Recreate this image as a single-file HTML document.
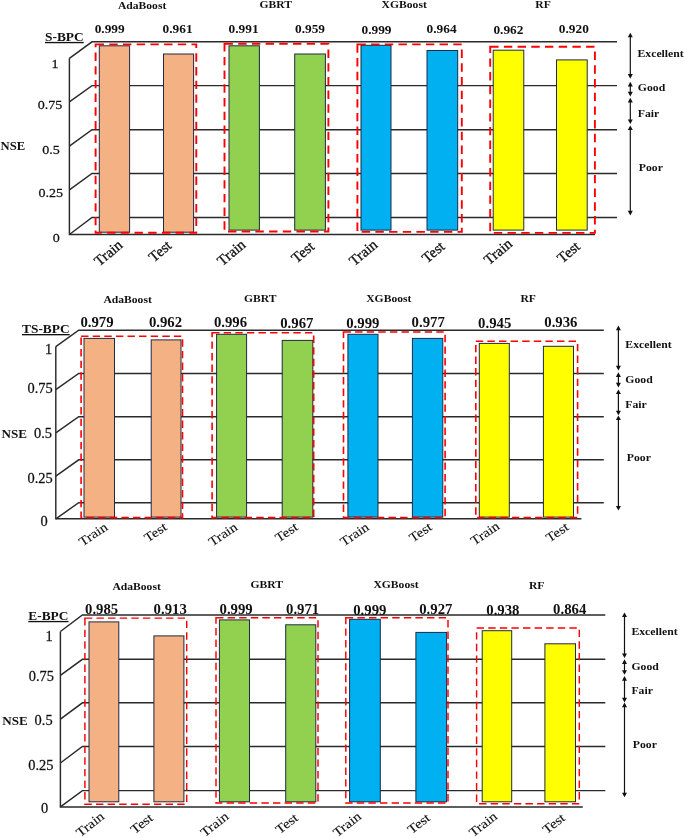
<!DOCTYPE html>
<html><head><meta charset="utf-8"><title>NSE</title>
<style>html,body{margin:0;padding:0;background:#fff}svg{display:block;filter:blur(0.4px)}text{font-family:"Liberation Serif", "DejaVu Serif", serif;fill:#111}</style>
</head><body>
<svg width="685" height="838" viewBox="0 0 685 838">
<g stroke="#2a2a2a" stroke-width="1.45" fill="none">
<path d="M69.4,58.3 L92,41.8 L617,41.8"/>
<path d="M69.4,101.9 L92,85.6 L617,85.6"/>
<path d="M69.4,146.1 L92,129.7 L617,129.7"/>
<path d="M69.4,189.8 L92,173.5 L617,173.5"/>
<path d="M69.4,234.5 L92,217.5 L617,217.5"/>
<path d="M69.4,58.3 L69.4,234.5 L595,234.5"/>
</g>
<rect x="99.3" y="45.8" width="30.3" height="186.4" fill="#F4B183" stroke="#1f2a44" stroke-width="1"/>
<rect x="163.5" y="54" width="30.1" height="178.2" fill="#F4B183" stroke="#1f2a44" stroke-width="1"/>
<rect x="229" y="45.8" width="30.4" height="184.3" fill="#92D050" stroke="#1f2a44" stroke-width="1"/>
<rect x="294.7" y="54" width="30.7" height="176.1" fill="#92D050" stroke="#1f2a44" stroke-width="1"/>
<rect x="361" y="45.3" width="30" height="184.8" fill="#00B0F0" stroke="#1f2a44" stroke-width="1"/>
<rect x="427" y="50.5" width="30.7" height="179.6" fill="#00B0F0" stroke="#1f2a44" stroke-width="1"/>
<rect x="493.2" y="50.2" width="30.6" height="179.9" fill="#FFFF00" stroke="#1f2a44" stroke-width="1"/>
<rect x="556.5" y="59.9" width="30.7" height="170.2" fill="#FFFF00" stroke="#1f2a44" stroke-width="1"/>
<rect x="95.6" y="44.4" width="100.7" height="188.4" fill="none" stroke="#ff0000" stroke-width="1.9" stroke-dasharray="8.4,5.3"/>
<rect x="224.5" y="43.8" width="103.9" height="187.7" fill="none" stroke="#ff0000" stroke-width="1.9" stroke-dasharray="8.4,5.3"/>
<rect x="357.4" y="44.4" width="104.4" height="187.5" fill="none" stroke="#ff0000" stroke-width="1.9" stroke-dasharray="8.4,5.3"/>
<rect x="490.2" y="46.7" width="104.7" height="186.2" fill="none" stroke="#ff0000" stroke-width="1.9" stroke-dasharray="8.4,5.3"/>
<text transform="translate(45 40.9)" font-size="13.4" font-weight="bold" text-decoration="underline">S-BPC</text>
<text transform="translate(58.4 67.9) scale(1.05 1)" font-size="13.4" text-anchor="end" stroke="#111" stroke-width="0.25">1</text>
<text transform="translate(62.3 108.5) scale(1.05 1)" font-size="13.4" text-anchor="end" stroke="#111" stroke-width="0.25">0.75</text>
<text transform="translate(59.7 154.3) scale(1.05 1)" font-size="13.4" text-anchor="end" stroke="#111" stroke-width="0.25">0.5</text>
<text transform="translate(63 196.8) scale(1.05 1)" font-size="13.4" text-anchor="end" stroke="#111" stroke-width="0.25">0.25</text>
<text transform="translate(59.7 242) scale(1.05 1)" font-size="13.4" text-anchor="end" stroke="#111" stroke-width="0.25">0</text>
<text transform="translate(0.5 150) scale(1.1 1)" font-size="11.5" font-weight="bold">NSE</text>
<text transform="translate(142.1 9.4) scale(1.02 1)" font-size="11.4" font-weight="bold" text-anchor="middle">AdaBoost</text>
<text transform="translate(275.8 8.2) scale(1.02 1)" font-size="11.4" font-weight="bold" text-anchor="middle">GBRT</text>
<text transform="translate(404.2 8.2) scale(1.02 1)" font-size="11.4" font-weight="bold" text-anchor="middle">XGBoost</text>
<text transform="translate(543 8.2) scale(1.02 1)" font-size="11.4" font-weight="bold" text-anchor="middle">RF</text>
<text transform="translate(109.7 33.3) scale(1.06 1)" font-size="12.6" font-weight="bold" text-anchor="middle">0.999</text>
<text transform="translate(177.6 33.3) scale(1.06 1)" font-size="12.6" font-weight="bold" text-anchor="middle">0.961</text>
<text transform="translate(243.6 33.3) scale(1.06 1)" font-size="12.6" font-weight="bold" text-anchor="middle">0.991</text>
<text transform="translate(310 33.3) scale(1.06 1)" font-size="12.6" font-weight="bold" text-anchor="middle">0.959</text>
<text transform="translate(376.5 34.1) scale(1.06 1)" font-size="12.6" font-weight="bold" text-anchor="middle">0.999</text>
<text transform="translate(441.6 33) scale(1.06 1)" font-size="12.6" font-weight="bold" text-anchor="middle">0.964</text>
<text transform="translate(508.4 33.6) scale(1.06 1)" font-size="12.6" font-weight="bold" text-anchor="middle">0.962</text>
<text transform="translate(573.8 33) scale(1.06 1)" font-size="12.6" font-weight="bold" text-anchor="middle">0.920</text>
<text transform="translate(637.5 56.8) scale(1.03 1)" font-size="11.4" font-weight="bold">Excellent</text>
<text transform="translate(637.8 90.7) scale(1.03 1)" font-size="11.4" font-weight="bold">Good</text>
<text transform="translate(637.8 116.7) scale(1.03 1)" font-size="11.4" font-weight="bold">Fair</text>
<text transform="translate(638.8 171) scale(1.03 1)" font-size="11.4" font-weight="bold">Poor</text>
<path d="M630.3,34.7 L630.3,76.7" stroke="#111" stroke-width="1.2" fill="none"/>
<path d="M630.3,32.7 l-2.5,4.6 l5,0 Z M630.3,78.7 l-2.5,-4.6 l5,0 Z" fill="#111"/>
<path d="M630.3,83.8 L630.3,94.4" stroke="#111" stroke-width="1.2" fill="none"/>
<path d="M630.3,81.8 l-2.5,4.6 l5,0 Z M630.3,96.4 l-2.5,-4.6 l5,0 Z" fill="#111"/>
<path d="M630.3,99.8 L630.3,122" stroke="#111" stroke-width="1.2" fill="none"/>
<path d="M630.3,97.8 l-2.5,4.6 l5,0 Z M630.3,124 l-2.5,-4.6 l5,0 Z" fill="#111"/>
<path d="M630.3,127.5 L630.3,213.4" stroke="#111" stroke-width="1.2" fill="none"/>
<path d="M630.3,125.5 l-2.5,4.6 l5,0 Z M630.3,215.4 l-2.5,-4.6 l5,0 Z" fill="#111"/>
<text transform="translate(123.5 246.5) rotate(-40)" font-size="14.8" text-anchor="end" stroke="#111" stroke-width="0.3">Train</text>
<text transform="translate(172.5 247) rotate(-40)" font-size="14.8" text-anchor="end" stroke="#111" stroke-width="0.3">Test</text>
<text transform="translate(246.5 246.2) rotate(-40)" font-size="14.8" text-anchor="end" stroke="#111" stroke-width="0.3">Train</text>
<text transform="translate(315.3 248) rotate(-40)" font-size="14.8" text-anchor="end" stroke="#111" stroke-width="0.3">Test</text>
<text transform="translate(378.5 246.2) rotate(-40)" font-size="14.8" text-anchor="end" stroke="#111" stroke-width="0.3">Train</text>
<text transform="translate(445.7 248) rotate(-40)" font-size="14.8" text-anchor="end" stroke="#111" stroke-width="0.3">Test</text>
<text transform="translate(513.2 245.3) rotate(-40)" font-size="14.8" text-anchor="end" stroke="#111" stroke-width="0.3">Train</text>
<text transform="translate(581 248) rotate(-40)" font-size="14.8" text-anchor="end" stroke="#111" stroke-width="0.3">Test</text>
<g stroke="#2a2a2a" stroke-width="1.45" fill="none">
<path d="M55.8,346.6 L78.7,330.2 L603.8,330.2"/>
<path d="M55.8,389.7 L78.7,373.5 L603.8,373.5"/>
<path d="M55.8,432.9 L78.7,416.7 L603.8,416.7"/>
<path d="M55.8,476.1 L78.7,459.8 L603.8,459.8"/>
<path d="M55.8,518.8 L78.7,502.7 L603.8,502.7"/>
<path d="M55.8,346.6 L55.8,518.8 L581.4,518.8"/>
</g>
<rect x="84" y="338.4" width="30.5" height="178.7" fill="#F4B183" stroke="#1f2a44" stroke-width="1"/>
<rect x="151.2" y="339.9" width="29.8" height="177.2" fill="#F4B183" stroke="#1f2a44" stroke-width="1"/>
<rect x="216.6" y="334.3" width="30" height="182.8" fill="#92D050" stroke="#1f2a44" stroke-width="1"/>
<rect x="282.2" y="340.4" width="30.6" height="176.7" fill="#92D050" stroke="#1f2a44" stroke-width="1"/>
<rect x="347.9" y="334.3" width="30.1" height="182.8" fill="#00B0F0" stroke="#1f2a44" stroke-width="1"/>
<rect x="412.4" y="338.4" width="30.4" height="178.7" fill="#00B0F0" stroke="#1f2a44" stroke-width="1"/>
<rect x="479.3" y="343.4" width="30" height="173.7" fill="#FFFF00" stroke="#1f2a44" stroke-width="1"/>
<rect x="543.4" y="346.3" width="30.1" height="170.8" fill="#FFFF00" stroke="#1f2a44" stroke-width="1"/>
<rect x="81.1" y="336.3" width="101.4" height="181.3" fill="none" stroke="#ff0000" stroke-width="1.6" stroke-dasharray="7.4,4.2"/>
<rect x="212.1" y="332.8" width="101.6" height="184.8" fill="none" stroke="#ff0000" stroke-width="1.6" stroke-dasharray="7.4,4.2"/>
<rect x="343.5" y="332" width="101.6" height="185.6" fill="none" stroke="#ff0000" stroke-width="1.6" stroke-dasharray="7.4,4.2"/>
<rect x="475.8" y="341.3" width="101.8" height="176.3" fill="none" stroke="#ff0000" stroke-width="1.6" stroke-dasharray="7.4,4.2"/>
<text transform="translate(22 333)" font-size="13.4" font-weight="bold" text-decoration="underline">TS-BPC</text>
<text transform="translate(52.3 353.8) scale(1.03 1)" font-size="14" text-anchor="end" stroke="#111" stroke-width="0.25">1</text>
<text transform="translate(52.7 393.2) scale(1.03 1)" font-size="14" text-anchor="end" stroke="#111" stroke-width="0.25">0.75</text>
<text transform="translate(52 438) scale(1.03 1)" font-size="14" text-anchor="end" stroke="#111" stroke-width="0.25">0.5</text>
<text transform="translate(52.7 483.4) scale(1.03 1)" font-size="14" text-anchor="end" stroke="#111" stroke-width="0.25">0.25</text>
<text transform="translate(47.8 525.9) scale(1.03 1)" font-size="14" text-anchor="end" stroke="#111" stroke-width="0.25">0</text>
<text transform="translate(1.5 438) scale(1.14 1)" font-size="11.5" font-weight="bold">NSE</text>
<text transform="translate(127.6 303.4) scale(1.02 1)" font-size="11.4" font-weight="bold" text-anchor="middle">AdaBoost</text>
<text transform="translate(260.3 301.9) scale(1.02 1)" font-size="11.4" font-weight="bold" text-anchor="middle">GBRT</text>
<text transform="translate(388.8 301.9) scale(1.02 1)" font-size="11.4" font-weight="bold" text-anchor="middle">XGBoost</text>
<text transform="translate(528.2 301.9) scale(1.02 1)" font-size="11.4" font-weight="bold" text-anchor="middle">RF</text>
<text transform="translate(97 326.7) scale(1.04 1)" font-size="14.2" font-weight="bold" text-anchor="middle">0.979</text>
<text transform="translate(165.5 326.7) scale(1.04 1)" font-size="14.2" font-weight="bold" text-anchor="middle">0.962</text>
<text transform="translate(230.5 326.7) scale(1.04 1)" font-size="14.2" font-weight="bold" text-anchor="middle">0.996</text>
<text transform="translate(296.8 327.6) scale(1.04 1)" font-size="14.2" font-weight="bold" text-anchor="middle">0.967</text>
<text transform="translate(362.8 327.6) scale(1.04 1)" font-size="14.2" font-weight="bold" text-anchor="middle">0.999</text>
<text transform="translate(428.2 326.7) scale(1.04 1)" font-size="14.2" font-weight="bold" text-anchor="middle">0.977</text>
<text transform="translate(494.7 327.6) scale(1.04 1)" font-size="14.2" font-weight="bold" text-anchor="middle">0.945</text>
<text transform="translate(560.9 326.7) scale(1.04 1)" font-size="14.2" font-weight="bold" text-anchor="middle">0.936</text>
<text transform="translate(625.3 348) scale(1.03 1)" font-size="11.4" font-weight="bold">Excellent</text>
<text transform="translate(625.3 383) scale(1.03 1)" font-size="11.4" font-weight="bold">Good</text>
<text transform="translate(625.3 408) scale(1.03 1)" font-size="11.4" font-weight="bold">Fair</text>
<text transform="translate(626.8 461.2) scale(1.03 1)" font-size="11.4" font-weight="bold">Poor</text>
<path d="M618.4,327.6 L618.4,368.4" stroke="#111" stroke-width="1.2" fill="none"/>
<path d="M618.4,325.6 l-2.5,4.6 l5,0 Z M618.4,370.4 l-2.5,-4.6 l5,0 Z" fill="#111"/>
<path d="M618.4,374.3 L618.4,385.4" stroke="#111" stroke-width="1.2" fill="none"/>
<path d="M618.4,372.3 l-2.5,4.6 l5,0 Z M618.4,387.4 l-2.5,-4.6 l5,0 Z" fill="#111"/>
<path d="M618.4,391.5 L618.4,413.3" stroke="#111" stroke-width="1.2" fill="none"/>
<path d="M618.4,389.5 l-2.5,4.6 l5,0 Z M618.4,415.3 l-2.5,-4.6 l5,0 Z" fill="#111"/>
<path d="M618.4,417.4 L618.4,508.5" stroke="#111" stroke-width="1.2" fill="none"/>
<path d="M618.4,415.4 l-2.5,4.6 l5,0 Z M618.4,510.5 l-2.5,-4.6 l5,0 Z" fill="#111"/>
<text transform="translate(108.6 529) rotate(-34) scale(1.14 1)" font-size="13" text-anchor="end" stroke="#111" stroke-width="0.12">Train</text>
<text transform="translate(168 529) rotate(-34) scale(1.14 1)" font-size="13" text-anchor="end" stroke="#111" stroke-width="0.12">Test</text>
<text transform="translate(238.4 529) rotate(-34) scale(1.14 1)" font-size="13" text-anchor="end" stroke="#111" stroke-width="0.12">Train</text>
<text transform="translate(299 529) rotate(-34) scale(1.14 1)" font-size="13" text-anchor="end" stroke="#111" stroke-width="0.12">Test</text>
<text transform="translate(370 529) rotate(-34) scale(1.14 1)" font-size="13" text-anchor="end" stroke="#111" stroke-width="0.12">Train</text>
<text transform="translate(433 529) rotate(-34) scale(1.14 1)" font-size="13" text-anchor="end" stroke="#111" stroke-width="0.12">Test</text>
<text transform="translate(500.5 528) rotate(-34) scale(1.14 1)" font-size="13" text-anchor="end" stroke="#111" stroke-width="0.12">Train</text>
<text transform="translate(569.7 529) rotate(-34) scale(1.14 1)" font-size="13" text-anchor="end" stroke="#111" stroke-width="0.12">Test</text>
<g stroke="#2a2a2a" stroke-width="1.45" fill="none">
<path d="M60.4,631.5 L82.4,614.9 L605.3,614.9"/>
<path d="M60.4,675.4 L82.4,659.3 L605.3,659.3"/>
<path d="M60.4,719.2 L82.4,702.8 L605.3,702.8"/>
<path d="M60.4,763 L82.4,746.4 L605.3,746.4"/>
<path d="M60.4,806.9 L82.4,790.6 L605.3,790.6"/>
<path d="M60.4,631.5 L60.4,806.9 L582.8,806.9"/>
</g>
<rect x="89" y="621.9" width="29.8" height="179.9" fill="#F4B183" stroke="#1f2a44" stroke-width="1"/>
<rect x="153.9" y="635.9" width="30" height="165.9" fill="#F4B183" stroke="#1f2a44" stroke-width="1"/>
<rect x="219.4" y="619.9" width="30.1" height="181.9" fill="#92D050" stroke="#1f2a44" stroke-width="1"/>
<rect x="285.7" y="624.8" width="30.1" height="177" fill="#92D050" stroke="#1f2a44" stroke-width="1"/>
<rect x="349.6" y="619.3" width="30.7" height="182.5" fill="#00B0F0" stroke="#1f2a44" stroke-width="1"/>
<rect x="415.9" y="632.4" width="30.7" height="169.4" fill="#00B0F0" stroke="#1f2a44" stroke-width="1"/>
<rect x="482.2" y="630.7" width="29.5" height="171.1" fill="#FFFF00" stroke="#1f2a44" stroke-width="1"/>
<rect x="544.9" y="643.8" width="30.6" height="158" fill="#FFFF00" stroke="#1f2a44" stroke-width="1"/>
<rect x="84.9" y="618.1" width="101.8" height="186.1" fill="none" stroke="#ff0000" stroke-width="1.45" stroke-dasharray="7.4,4.2"/>
<rect x="216" y="617.8" width="102" height="185.2" fill="none" stroke="#ff0000" stroke-width="1.45" stroke-dasharray="7.4,4.2"/>
<rect x="345.8" y="617.8" width="102.2" height="185.2" fill="none" stroke="#ff0000" stroke-width="1.45" stroke-dasharray="7.4,4.2"/>
<rect x="476.6" y="628" width="102.7" height="175.7" fill="none" stroke="#ff0000" stroke-width="1.45" stroke-dasharray="7.4,4.2"/>
<text transform="translate(28.3 619.9)" font-size="13.4" font-weight="bold" text-decoration="underline">E-BPC</text>
<text transform="translate(52.6 640.9) scale(1.03 1)" font-size="14" text-anchor="end" stroke="#111" stroke-width="0.25">1</text>
<text transform="translate(54 680.6) scale(1.03 1)" font-size="14" text-anchor="end" stroke="#111" stroke-width="0.25">0.75</text>
<text transform="translate(52.6 725.2) scale(1.03 1)" font-size="14" text-anchor="end" stroke="#111" stroke-width="0.25">0.5</text>
<text transform="translate(53.4 770.1) scale(1.03 1)" font-size="14" text-anchor="end" stroke="#111" stroke-width="0.25">0.25</text>
<text transform="translate(48.2 812.7) scale(1.03 1)" font-size="14" text-anchor="end" stroke="#111" stroke-width="0.25">0</text>
<text transform="translate(2.3 725.2) scale(1.14 1)" font-size="11.5" font-weight="bold">NSE</text>
<text transform="translate(136.6 590) scale(1.02 1)" font-size="11.4" font-weight="bold" text-anchor="middle">AdaBoost</text>
<text transform="translate(266.7 588.3) scale(1.02 1)" font-size="11.4" font-weight="bold" text-anchor="middle">GBRT</text>
<text transform="translate(396 587.7) scale(1.02 1)" font-size="11.4" font-weight="bold" text-anchor="middle">XGBoost</text>
<text transform="translate(536.7 588.6) scale(1.02 1)" font-size="11.4" font-weight="bold" text-anchor="middle">RF</text>
<text transform="translate(101.6 614) scale(1.04 1)" font-size="14.2" font-weight="bold" text-anchor="middle">0.985</text>
<text transform="translate(170.2 614) scale(1.04 1)" font-size="14.2" font-weight="bold" text-anchor="middle">0.913</text>
<text transform="translate(236.1 614) scale(1.04 1)" font-size="14.2" font-weight="bold" text-anchor="middle">0.999</text>
<text transform="translate(302.6 614) scale(1.04 1)" font-size="14.2" font-weight="bold" text-anchor="middle">0.971</text>
<text transform="translate(369.8 614.9) scale(1.04 1)" font-size="14.2" font-weight="bold" text-anchor="middle">0.999</text>
<text transform="translate(435.8 614) scale(1.04 1)" font-size="14.2" font-weight="bold" text-anchor="middle">0.927</text>
<text transform="translate(502.9 614.9) scale(1.04 1)" font-size="14.2" font-weight="bold" text-anchor="middle">0.938</text>
<text transform="translate(569.7 614) scale(1.04 1)" font-size="14.2" font-weight="bold" text-anchor="middle">0.864</text>
<text transform="translate(631.4 635.3) scale(1.03 1)" font-size="11.4" font-weight="bold">Excellent</text>
<text transform="translate(631.4 670.3) scale(1.03 1)" font-size="11.4" font-weight="bold">Good</text>
<text transform="translate(631.4 693.8) scale(1.03 1)" font-size="11.4" font-weight="bold">Fair</text>
<text transform="translate(632.8 747.9) scale(1.03 1)" font-size="11.4" font-weight="bold">Poor</text>
<path d="M624.5,614.5 L624.5,656" stroke="#111" stroke-width="1.2" fill="none"/>
<path d="M624.5,612.5 l-2.5,4.6 l5,0 Z M624.5,658 l-2.5,-4.6 l5,0 Z" fill="#111"/>
<path d="M624.5,661.3 L624.5,672.8" stroke="#111" stroke-width="1.2" fill="none"/>
<path d="M624.5,659.3 l-2.5,4.6 l5,0 Z M624.5,674.8 l-2.5,-4.6 l5,0 Z" fill="#111"/>
<path d="M624.5,678.1 L624.5,700.4" stroke="#111" stroke-width="1.2" fill="none"/>
<path d="M624.5,676.1 l-2.5,4.6 l5,0 Z M624.5,702.4 l-2.5,-4.6 l5,0 Z" fill="#111"/>
<path d="M624.5,704.6 L624.5,795.3" stroke="#111" stroke-width="1.2" fill="none"/>
<path d="M624.5,702.6 l-2.5,4.6 l5,0 Z M624.5,797.3 l-2.5,-4.6 l5,0 Z" fill="#111"/>
<text transform="translate(105.1 818) rotate(-38) scale(1.14 1)" font-size="13" text-anchor="end" stroke="#111" stroke-width="0.12">Train</text>
<text transform="translate(153.9 819.5) rotate(-38) scale(1.14 1)" font-size="13" text-anchor="end" stroke="#111" stroke-width="0.12">Test</text>
<text transform="translate(229.5 818) rotate(-38) scale(1.14 1)" font-size="13" text-anchor="end" stroke="#111" stroke-width="0.12">Train</text>
<text transform="translate(299 819.5) rotate(-38) scale(1.14 1)" font-size="13" text-anchor="end" stroke="#111" stroke-width="0.12">Test</text>
<text transform="translate(362 818) rotate(-38) scale(1.14 1)" font-size="13" text-anchor="end" stroke="#111" stroke-width="0.12">Train</text>
<text transform="translate(431 819.5) rotate(-38) scale(1.14 1)" font-size="13" text-anchor="end" stroke="#111" stroke-width="0.12">Test</text>
<text transform="translate(498 818) rotate(-38) scale(1.14 1)" font-size="13" text-anchor="end" stroke="#111" stroke-width="0.12">Train</text>
<text transform="translate(566 819.5) rotate(-38) scale(1.14 1)" font-size="13" text-anchor="end" stroke="#111" stroke-width="0.12">Test</text>
</svg></body></html>
